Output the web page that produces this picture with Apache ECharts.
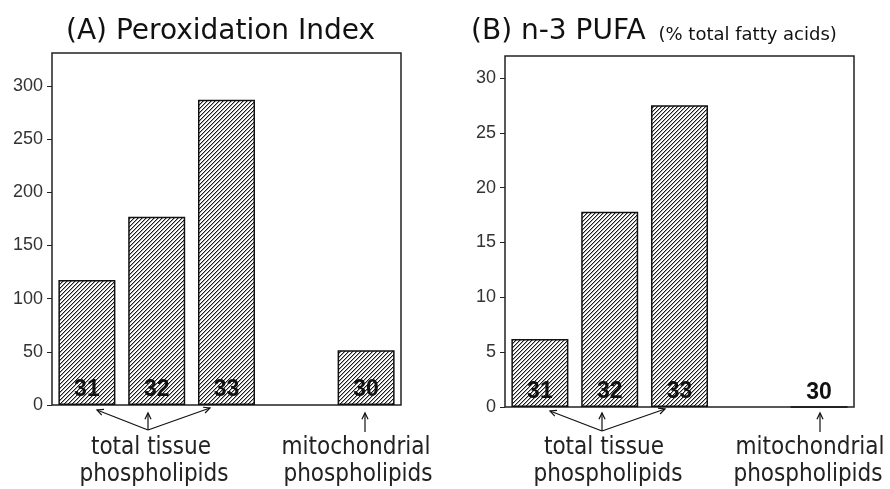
<!DOCTYPE html>
<html>
<head>
<meta charset="utf-8">
<script src="https://cdn.jsdelivr.net/npm/echarts@6/dist/echarts.min.js"></script>
<style>
  html, body { margin: 0; padding: 0; background: #fff; }
  #chart { width: 890px; height: 489px; }
</style>
</head>
<body>
<div id="chart"></div>
<script>
// bar categories (reference numbers), 4th slot is an empty gap
const categories = ['31', '32', '33', '', '30'];
// (A) Peroxidation Index
const peroxidationIndex = [117.5, 177, 287, null, 51.5];
// (B) n-3 PUFA, % total fatty acids
const n3Pufa = [6.2, 17.8, 27.5, null, 0];
// y tick labels
const ticksA = [0, 50, 100, 150, 200, 250, 300];
const ticksB = [0, 5, 10, 15, 20, 25, 30];

// hatch fill "////"
function hatch() {
  const c = document.createElement('canvas');
  c.width = 4;
  c.height = 4;
  const ctx = c.getContext('2d');
  ctx.fillStyle = '#fff';
  ctx.fillRect(0, 0, 4, 4);
  for (let x = 0; x < 4; x++) {
    ctx.fillStyle = '#1a1a1a';
    ctx.fillRect(x, 3 - x, 1, 1);
    ctx.fillStyle = '#a8a8a8';
    ctx.fillRect(x, (4 - x) % 4, 1, 1);
  }
  return { image: c, repeat: 'repeat' };
}

const chart = echarts.init(document.getElementById('chart'));

function yAxis(gridIndex, max, ticks) {
  return {
    type: 'value',
    gridIndex: gridIndex,
    min: 0,
    max: max,
    axisLine: { show: false },
    axisTick: { show: true, length: 5, customValues: ticks, lineStyle: { color: '#222', width: 1 } },
    axisLabel: {
      customValues: ticks,
      margin: 9,
      color: '#333',
      fontFamily: 'Liberation Sans, Arial, sans-serif',
      fontSize: 18
    },
    splitLine: { show: false }
  };
}

function xAxis(gridIndex) {
  return {
    type: 'category',
    gridIndex: gridIndex,
    data: categories,
    axisLine: { show: false },
    axisTick: { show: false },
    axisLabel: { show: false }
  };
}

function barSeries(idx, data) {
  return {
    type: 'bar',
    xAxisIndex: idx,
    yAxisIndex: idx,
    data: data,
    barWidth: 57,
    itemStyle: { color: hatch(), borderColor: '#111', borderWidth: 1.5 },
    label: {
      show: true,
      position: 'insideBottom',
      distance: 4,
      formatter: '{b}',
      color: '#111',
      fontFamily: 'Liberation Sans, Arial, sans-serif',
      fontWeight: 'bold',
      fontSize: 23
    },
    silent: true,
    animation: false
  };
}

// arrow line with a small open head at (x2, y2)
function arrow(x1, y1, x2, y2) {
  const a = Math.atan2(y2 - y1, x2 - x1);
  const h = 7, w = 0.45;
  return [
    { type: 'line', shape: { x1: x1, y1: y1, x2: x2, y2: y2 }, style: { stroke: '#111', lineWidth: 1.2 } },
    {
      type: 'polyline',
      shape: {
        points: [
          [x2 - h * Math.cos(a - w), y2 - h * Math.sin(a - w)],
          [x2, y2],
          [x2 - h * Math.cos(a + w), y2 - h * Math.sin(a + w)]
        ]
      },
      style: { stroke: '#111', lineWidth: 1.2, fill: null }
    }
  ];
}

function note(x, y, text) {
  return {
    type: 'text',
    x: x,
    y: y,
    style: {
      text: text,
      align: 'center',
      verticalAlign: 'middle',
      fill: '#222',
      fontFamily: 'DejaVu Sans Condensed, DejaVu Sans, sans-serif',
      fontSize: 24
    }
  };
}

const graphics = [].concat(
  arrow(148, 430, 97, 410), arrow(148, 430, 148, 413), arrow(148, 430, 210, 408),
  arrow(365, 432, 365, 413),
  arrow(602, 431, 550, 411), arrow(602, 431, 602, 413), arrow(602, 431, 665, 409),
  arrow(820, 432, 820, 413),
  [
    note(151, 448, 'total tissue'), note(154, 475, 'phospholipids'),
    note(356, 448, 'mitochondrial'), note(358, 475, 'phospholipids'),
    note(604, 448, 'total tissue'), note(608, 475, 'phospholipids'),
    note(810, 448, 'mitochondrial'), note(808, 475, 'phospholipids')
  ]
);

chart.setOption({
  backgroundColor: '#fff',
  animation: false,
  title: [
    {
      text: '(A) Peroxidation Index',
      left: 61,
      top: 13,
      textStyle: { color: '#111', fontFamily: 'DejaVu Sans, sans-serif', fontSize: 28, fontWeight: 'normal' }
    },
    {
      text: '(B) n-3 PUFA {s|(% total fatty acids)}',
      left: 466,
      top: 13,
      textStyle: {
        color: '#111', fontFamily: 'DejaVu Sans, sans-serif', fontSize: 28, fontWeight: 'normal',
        rich: { s: { fontFamily: 'DejaVu Sans, sans-serif', fontSize: 18, color: '#111', padding: [6, 0, 0, 4] } }
      }
    }
  ],
  grid: [
    { left: 52, right: 489, top: 53, bottom: 84, show: true, borderColor: '#222', borderWidth: 1.5, backgroundColor: 'transparent' },
    { left: 505, right: 36, top: 56, bottom: 82, show: true, borderColor: '#222', borderWidth: 1.5, backgroundColor: 'transparent' }
  ],
  xAxis: [xAxis(0), xAxis(1)],
  yAxis: [yAxis(0, 331, ticksA), yAxis(1, 32, ticksB)],
  series: [barSeries(0, peroxidationIndex), barSeries(1, n3Pufa)],
  graphic: graphics
});
</script>
</body>
</html>
